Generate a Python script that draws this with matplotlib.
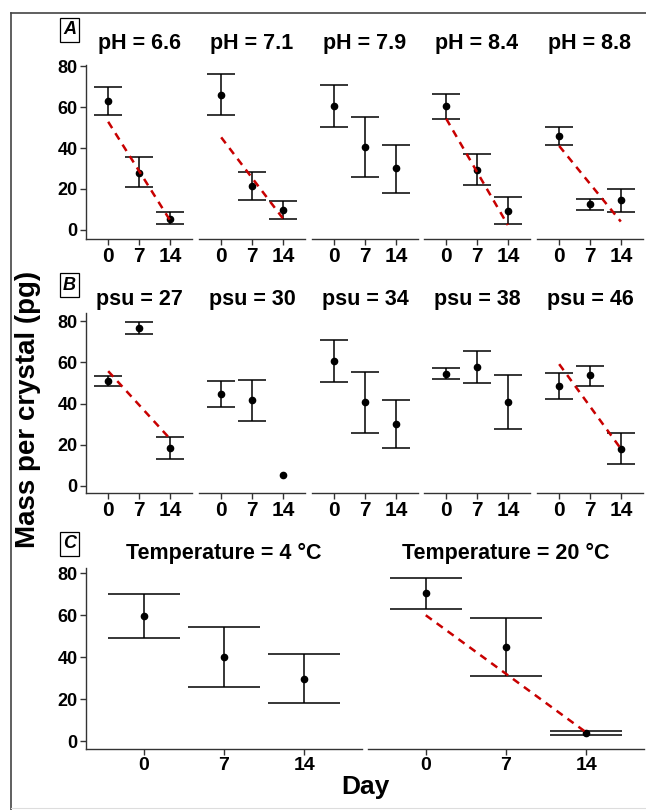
import matplotlib.pyplot as plt

plt.rcParams['font.family'] = ['Liberation Sans', 'DejaVu Sans']
plt.rcParams['font.weight'] = 'bold'

W, H = 646, 810

days = ['0', '7', '14']
pos = [1, 2, 3]

# panel A: pH
ph_titles = ['pH = 6.6', 'pH = 7.1', 'pH = 7.9', 'pH = 8.4', 'pH = 8.8']
ph_mean = [[63.1, 28.0, 5.5], [66.0, 21.5, 9.8], [60.5, 40.3, 30.1], [60.5, 29.4, 9.4], [46.0, 12.7, 14.5]]
ph_hi = [[69.6, 35.4, 8.6], [76.3, 28.3, 14.1], [70.6, 55.1, 41.6], [66.3, 37.1, 15.9], [50.2, 15.0, 20.2]]
ph_lo = [[55.9, 20.8, 3.1], [55.9, 14.5, 5.2], [50.1, 25.7, 18.2], [54.3, 21.8, 2.9], [41.6, 9.8, 8.6]]
ph_fit = [[52.8, 4.9], [45.2, 5.7], None, [54.3, 2.4], [41.0, 4.1]]

# panel B: salinity
psu_titles = ['psu = 27', 'psu = 30', 'psu = 34', 'psu = 38', 'psu = 46']
psu_mean = [[51.0, 76.8, 18.5], [44.4, 41.5, 5.3], [60.6, 40.6, 30.3], [54.3, 57.8, 40.8], [48.7, 53.6, 18.1]]
psu_hi = [[53.4, 79.7, 23.8], [51.0, 51.3, None], [70.9, 55.2, 41.9], [57.0, 65.4, 53.8], [54.7, 58.3, 25.6]]
psu_lo = [[48.4, 73.7, 13.3], [38.1, 31.7, None], [50.4, 25.9, 18.5], [51.7, 49.9, 27.5], [42.3, 48.7, 10.5]]
psu_fit = [[55.7, 23.0], None, None, None, [59.1, 18.1]]

# panel C: temperature
temp_titles = ['Temperature = 4 °C', 'Temperature = 20 °C']
temp_mean = [[59.4, 40.0, 29.6], [70.4, 44.9, 3.8]]
temp_hi = [[69.8, 54.3, 41.3], [77.6, 58.5, 4.8]]
temp_lo = [[49.2, 25.5, 18.2], [62.9, 31.1, 2.7]]
temp_fit = [None, [59.9, 4.1]]

fig = plt.figure(figsize=(W / 100, H / 100), dpi=100)

# outer frame (left + top)
fig.add_artist(plt.Line2D([11 / W, 11 / W], [0, 1 - 13 / H], color='#444444', lw=1.2))
fig.add_artist(plt.Line2D([11 / W, 1], [1 - 13 / H, 1 - 13 / H], color='#444444', lw=1.2))
fig.add_artist(plt.Line2D([11 / W, 1], [1 - 808 / H, 1 - 808 / H], color='#dddddd', lw=0.8))


def draw_panel(ax, mean, hi, lo, fit, first, ylim, xsize):
    for p, m, h, l in zip(pos, mean, hi, lo):
        if h is not None:
            ax.vlines(p, l, h, color='black', lw=1.1)
            ax.hlines([l, h], p - 0.45, p + 0.45, color='black', lw=1.1)
    ax.plot(pos, mean, 'o', color='black', ms=4.5, zorder=3)
    if fit is not None:
        ax.plot([pos[0], pos[-1]], fit, color='#c80000', lw=1.8, dashes=(3, 2.4), zorder=4)
    ax.set_xlim(0.28, 3.72)
    ax.set_ylim(*ylim)
    ax.set_xticks(pos, days)
    ax.set_yticks([0, 20, 40, 60, 80])
    for s in ['top', 'right']:
        ax.spines[s].set_visible(False)
    for s in ['left', 'bottom']:
        ax.spines[s].set_color('#333333')
        ax.spines[s].set_linewidth(1.0)
    ax.tick_params(length=4, width=1, color='#333333', pad=2)
    ax.tick_params(axis='x', labelsize=xsize, pad=2)
    ax.tick_params(axis='y', labelsize=13)
    if not first:
        ax.spines['left'].set_visible(False)
        ax.tick_params(axis='y', left=False, labelleft=False)


rows = [
    ('A', ph_titles, ph_mean, ph_hi, ph_lo, ph_fit, [86, 199, 312, 424, 537], 106, 65, 239, (-4.4, 80.5), 43, 30, 15),
    ('B', psu_titles, psu_mean, psu_hi, psu_lo, psu_fit, [86, 199, 312, 424, 537], 106, 313, 493, (-3.4, 83.9), 299, 285, 15),
    ('C', temp_titles, temp_mean, temp_hi, temp_lo, temp_fit, [86, 368], 276, 568, 749, (-3.8, 82.4), 553, 544, 14),
]

for lab, titles, means, his, los, fits, lefts, w, top, bot, ylim, ty, ly, xs in rows:
    for i in range(len(titles)):
        ax = fig.add_axes([lefts[i] / W, 1 - bot / H, w / W, (bot - top) / H])
        draw_panel(ax, means[i], his[i], los[i], fits[i], i == 0, ylim, xs)
        fig.text((lefts[i] + w / 2) / W, 1 - ty / H, titles[i], ha='center', va='center',
                 fontsize=15.5, fontweight='bold')
    fig.text(69.5 / W, 1 - ly / H, lab, ha='center', va='center', fontsize=13,
             fontweight='bold', fontstyle='italic',
             bbox=dict(boxstyle='square,pad=0.18', fc='white', ec='black', lw=0.9))

fig.text(28 / W, 1 - 409 / H, 'Mass per crystal (pg)', rotation=90, ha='center', va='center',
         fontsize=20, fontweight='bold')
fig.text(365 / W, 1 - 787 / H, 'Day', ha='center', va='center', fontsize=19, fontweight='bold')

fig.savefig('out.png', dpi=100)
